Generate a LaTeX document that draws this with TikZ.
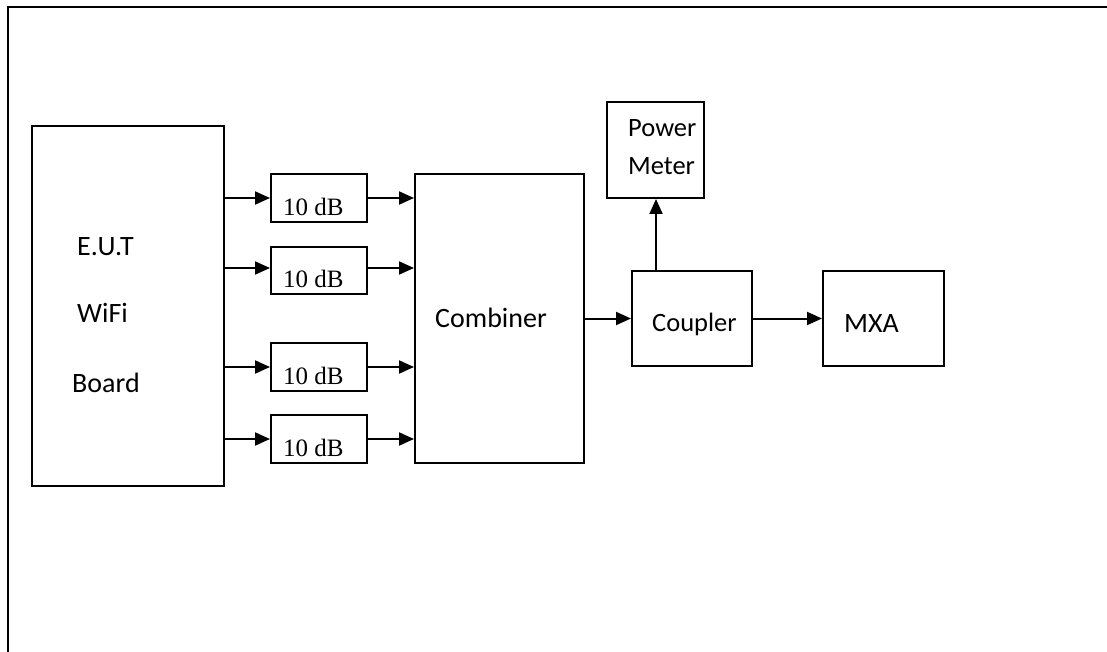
\documentclass[tikz,border=0pt]{standalone}
\usepackage{fontspec}
\setmainfont{Carlito}
\newfontfamily\timesfont{Liberation Serif}
\usetikzlibrary{arrows.meta}
\begin{document}
\begin{tikzpicture}[x=1pt,y=-1pt,
  blk/.style={draw,line width=2pt,inner sep=0pt},
  lbl/.style={inner sep=0pt,anchor=base west,font=\fontsize{28}{32}\selectfont},
  slbl/.style={inner sep=0pt,anchor=base west,font=\fontsize{26.5}{30}\selectfont},
  dblbl/.style={inner sep=0pt,anchor=base west,font=\timesfont\fontsize{25}{28}\selectfont},
  arr/.style={line width=2pt,-{Triangle[length=15pt,width=13pt]}}]
\useasboundingbox (0,0) rectangle (1107,652);
% outer frame (top and left only)
\coordinate (ftr) at (1107,7);
\coordinate (ftl) at (8,7);
\coordinate (fbl) at (8,652);
\draw[line width=2.4pt] (ftr) -- (ftl) -- (fbl);
% blocks
\node[blk,minimum width=192pt,minimum height=360pt] (eut) at (128,306) {};
\node[blk,minimum width=96pt,minimum height=48pt] (a1) at (319,198) {};
\node[blk,minimum width=96pt,minimum height=47pt] (a2) at (319,270.5) {};
\node[blk,minimum width=96pt,minimum height=48pt] (a3) at (319,367) {};
\node[blk,minimum width=96pt,minimum height=48pt] (a4) at (319,439) {};
\node[blk,minimum width=169pt,minimum height=289pt] (comb) at (499.5,318.5) {};
\node[blk,minimum width=120pt,minimum height=95pt] (coup) at (692,318.5) {};
\node[blk,minimum width=97pt,minimum height=96pt] (pm) at (655.5,150) {};
\node[blk,minimum width=121pt,minimum height=95pt] (mxa) at (883.5,318.5) {};
% texts
\node[lbl] (t1) at (77,255) {E.U.T};
\node[lbl] (t2) at (77,322) {WiFi};
\node[lbl] (t3) at (72,392) {Board};
\node[dblbl] (d1) at (283,215) {10 dB};
\node[dblbl] (d2) at (283,287) {10 dB};
\node[dblbl] (d3) at (283,384) {10 dB};
\node[dblbl] (d4) at (283,456) {10 dB};
\node[lbl] (tc) at (435,327) {Combiner};
\node[slbl] (tcp) at (652,331) {Coupler};
\node[slbl] (tpw) at (628,137) {Power};
\node[slbl] (tmt) at (628,175) {Meter};
\node[lbl] (tmx) at (844,332) {MXA};
% connectors
\draw[arr] (eut.east |- a1.west) -- (a1.west);
\draw[arr] (eut.east |- 0,268) -- (a2.west |- 0,268);
\draw[arr] (eut.east |- a3.west) -- (a3.west);
\draw[arr] (eut.east |- a4.west) -- (a4.west);
\draw[arr] (a1.east) -- (comb.west |- a1.east);
\draw[arr] (a2.east |- 0,268) -- (comb.west |- 0,268);
\draw[arr] (a3.east) -- (comb.west |- a3.east);
\draw[arr] (a4.east) -- (comb.west |- a4.east);
\draw[arr] (comb.east |- coup.west) -- (coup.west);
\draw[arr] (coup.east) -- (mxa.west);
\draw[arr] (coup.north -| 656,0) -- (pm.south -| 656,0);
\end{tikzpicture}
\end{document}
